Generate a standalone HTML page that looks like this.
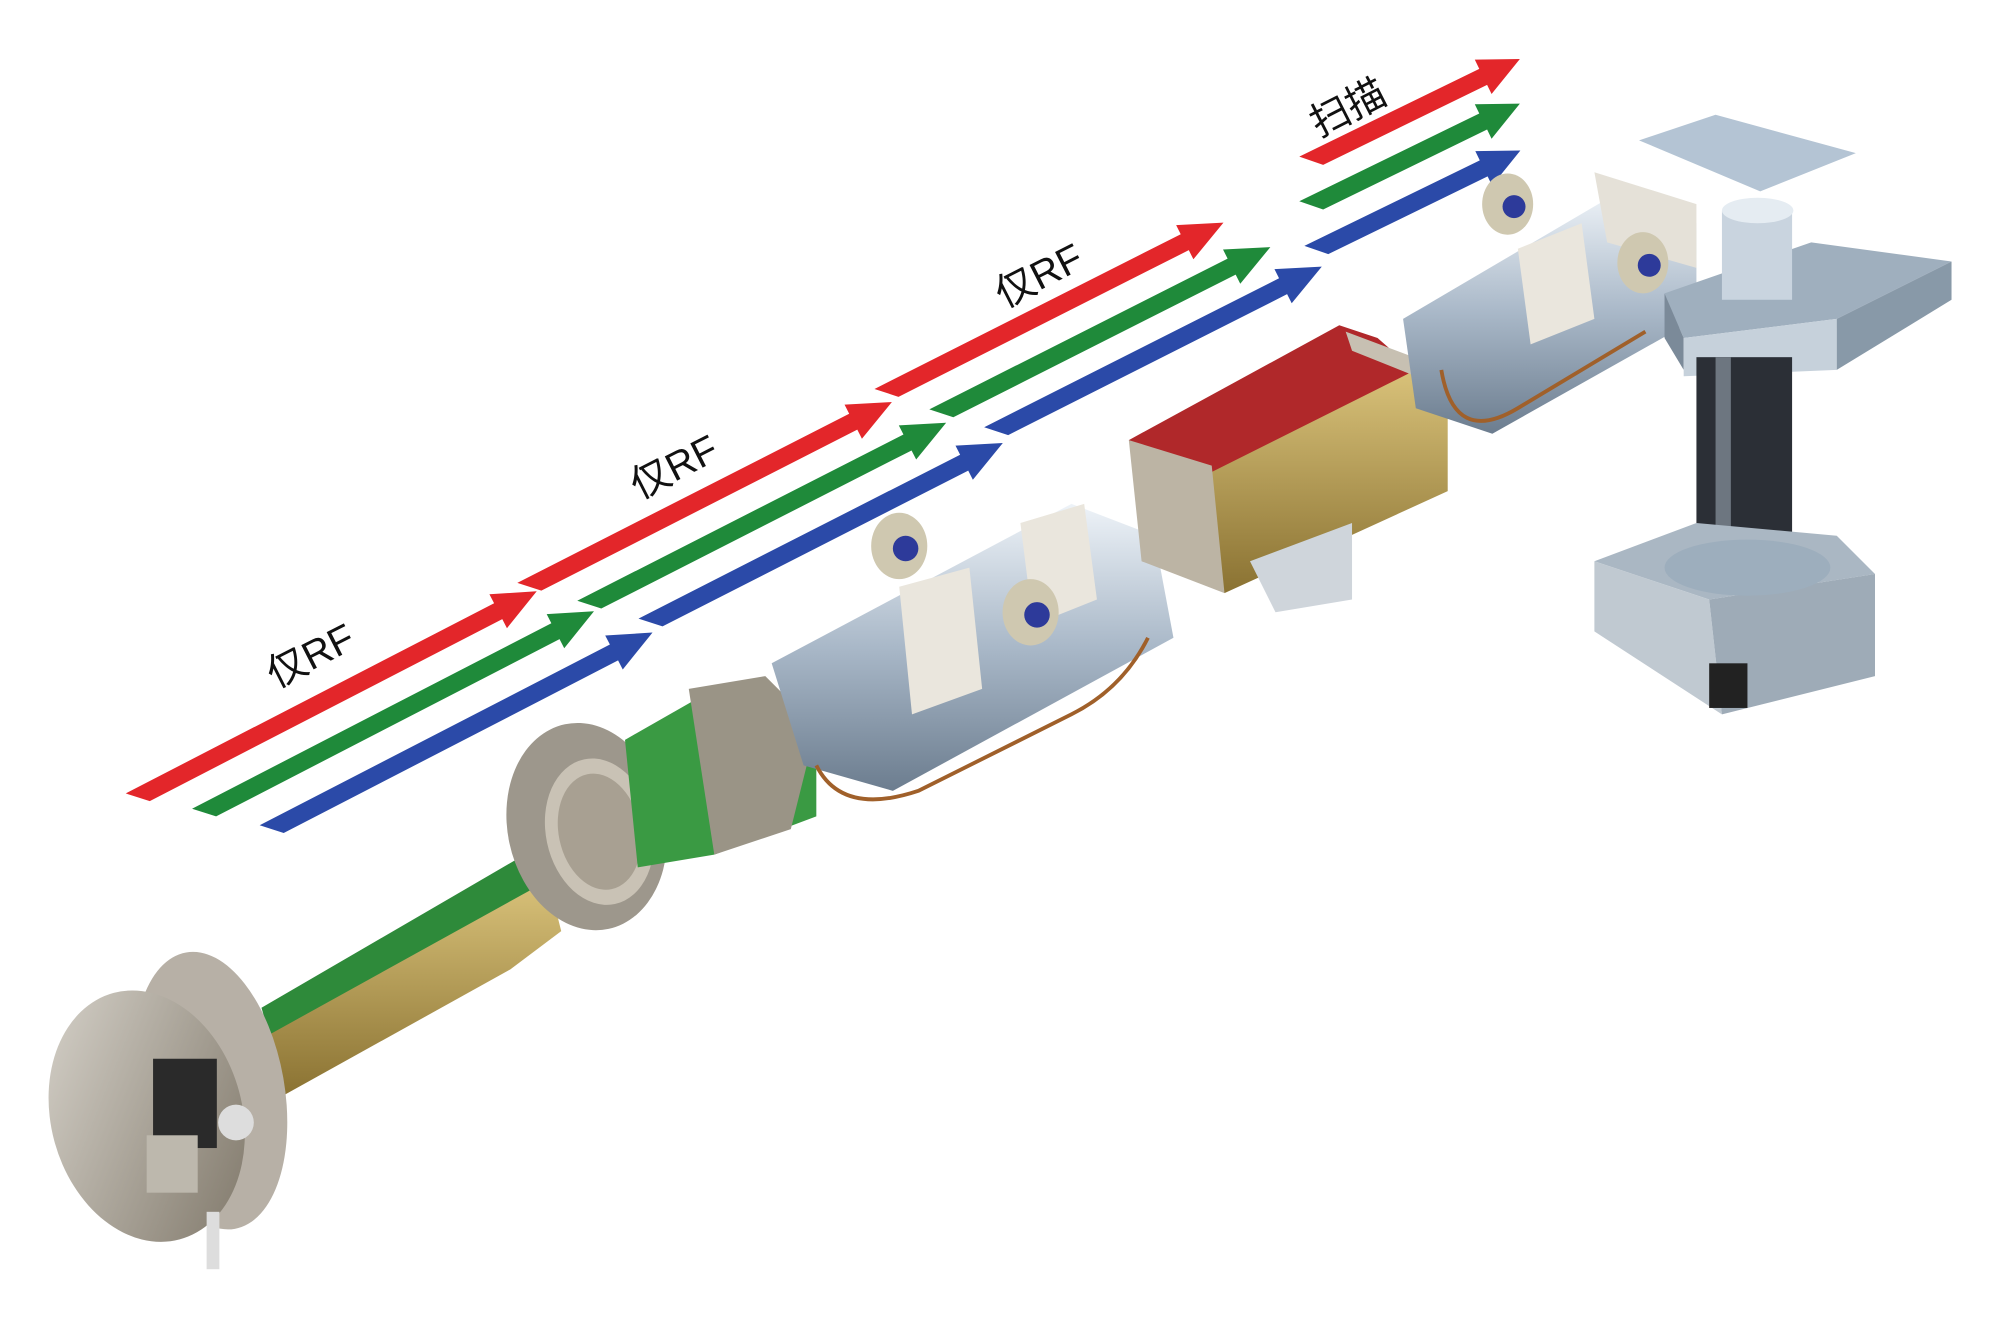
<!DOCTYPE html>
<html><head><meta charset="utf-8"><style>
html,body{margin:0;padding:0;background:#fff;width:2000px;height:1333px;overflow:hidden}
svg{display:block}
text{font-family:"Liberation Sans","Noto Sans CJK SC",sans-serif}
</style></head><body>
<svg width="2000" height="1333" viewBox="0 0 1568 1045" preserveAspectRatio="none" xmlns="http://www.w3.org/2000/svg">
<defs>
<linearGradient id="silver" x1="0" y1="0" x2="0" y2="1"><stop offset="0" stop-color="#eef3f8"/><stop offset="0.5" stop-color="#a9b8c8"/><stop offset="1" stop-color="#6c7d8f"/></linearGradient>
<linearGradient id="gold" x1="0" y1="0" x2="0" y2="1"><stop offset="0" stop-color="#d9c27a"/><stop offset="1" stop-color="#8a7232"/></linearGradient>
<linearGradient id="metal" x1="0" y1="0" x2="1" y2="1"><stop offset="0" stop-color="#d8d4cc"/><stop offset="1" stop-color="#7d7567"/></linearGradient>
</defs>

<g id="arrows">
<g transform="translate(108,625) rotate(-27.3)"><polygon points="-7,0 318,0 318,-8 352,7 318,22 318,14 7,14" transform="translate(0,-7)" fill="#e3262a"/></g>
<g transform="translate(160,637) rotate(-27.3)"><polygon points="-7,0 310,0 310,-8 344,7 310,22 310,14 7,14" transform="translate(0,-7)" fill="#1f8a3a"/></g>
<g transform="translate(213,650) rotate(-27.3)"><polygon points="-7,0 302,0 302,-8 336,7 302,22 302,14 7,14" transform="translate(0,-7)" fill="#2b4aa8"/></g>
<g transform="translate(415,460) rotate(-27)"><polygon points="-7,0 285,0 285,-8 319,7 285,22 285,14 7,14" transform="translate(0,-7)" fill="#e3262a"/></g>
<g transform="translate(462,474) rotate(-27)"><polygon points="-7,0 280,0 280,-8 314,7 280,22 280,14 7,14" transform="translate(0,-7)" fill="#1f8a3a"/></g>
<g transform="translate(510,488) rotate(-27)"><polygon points="-7,0 276,0 276,-8 310,7 276,22 276,14 7,14" transform="translate(0,-7)" fill="#2b4aa8"/></g>
<g transform="translate(695,308) rotate(-26.8)"><polygon points="-7,0 262,0 262,-8 296,7 262,22 262,14 7,14" transform="translate(0,-7)" fill="#e3262a"/></g>
<g transform="translate(738,324) rotate(-26.8)"><polygon points="-7,0 255,0 255,-8 289,7 255,22 255,14 7,14" transform="translate(0,-7)" fill="#1f8a3a"/></g>
<g transform="translate(781,338) rotate(-26.8)"><polygon points="-7,0 252,0 252,-8 286,7 252,22 252,14 7,14" transform="translate(0,-7)" fill="#2b4aa8"/></g>
<g transform="translate(1028,126) rotate(-26)"><polygon points="-7,0 150,0 150,-8 182,7 150,22 150,14 7,14" transform="translate(0,-7)" fill="#e3262a"/></g>
<g transform="translate(1028,161) rotate(-26)"><polygon points="-7,0 150,0 150,-8 182,7 150,22 150,14 7,14" transform="translate(0,-7)" fill="#1f8a3a"/></g>
<g transform="translate(1032,196) rotate(-26)"><polygon points="-7,0 146,0 146,-8 178,7 146,22 146,14 7,14" transform="translate(0,-7)" fill="#2b4aa8"/></g>
</g>

<text transform="translate(216,540) rotate(-27)" font-size="31" fill="#111">仅RF</text>
<text transform="translate(501,392) rotate(-27)" font-size="31" fill="#111">仅RF</text>
<text transform="translate(787,242) rotate(-27)" font-size="31" fill="#111">仅RF</text>
<text transform="translate(1034,108) rotate(-27)" font-size="31" fill="#111">扫描</text>

<polygon points="205,790 420,665 430,700 215,825" fill="#2e8a3a"/>
<polygon points="195,820 430,690 440,730 400,760 220,860 205,850" fill="url(#gold)"/>
<ellipse cx="165" cy="855" rx="58" ry="110" fill="#b7b0a6" transform="rotate(-10 165 855)"/>
<ellipse cx="115" cy="875" rx="75" ry="100" fill="url(#metal)" transform="rotate(-15 115 875)"/>
<rect x="120" y="830" width="50" height="70" fill="#2a2a2a"/>
<rect x="115" y="890" width="40" height="45" fill="#bdb8ad"/>
<circle cx="185" cy="880" r="14" fill="#ddd"/>
<rect x="162" y="950" width="10" height="45" fill="#ddd"/>

<ellipse cx="460" cy="648" rx="62" ry="82" fill="#9d978c" transform="rotate(-12 460 648)"/>
<ellipse cx="470" cy="652" rx="42" ry="58" fill="#c9c2b5" transform="rotate(-12 470 652)"/>
<ellipse cx="470" cy="652" rx="32" ry="46" fill="#a8a092" transform="rotate(-12 470 652)"/>
<polygon points="490,580 560,540 640,560 640,640 560,670 500,680" fill="#3a9a43"/>
<polygon points="540,540 600,530 640,570 620,650 560,670" fill="#9a9486"/>

<polygon points="605,520 840,395 905,420 920,500 700,620 630,600" fill="url(#silver)"/>
<polygon points="705,460 760,445 770,540 715,560" fill="#eae6dd"/>
<polygon points="800,410 850,395 860,470 810,490" fill="#eae6dd"/>
<ellipse cx="705" cy="428" rx="22" ry="26" fill="#cfc8b0"/>
<circle cx="710" cy="430" r="10" fill="#2d3a9a"/>
<ellipse cx="808" cy="480" rx="22" ry="26" fill="#cfc8b0"/>
<circle cx="813" cy="482" r="10" fill="#2d3a9a"/>
<path d="M640,600 q20,40 80,20 l120,-60 q40,-20 60,-60" stroke="#a0602a" stroke-width="3" fill="none"/>

<polygon points="885,345 1050,255 1080,265 1120,300 950,390" fill="#b0282a"/>
<polygon points="930,380 1110,290 1135,300 1135,385 960,465" fill="url(#gold)"/>
<polygon points="885,345 950,365 960,465 895,440" fill="#bcb4a4"/>
<polygon points="1055,260 1135,290 1135,305 1060,275" fill="#c7c0b2"/>
<polygon points="980,440 1060,410 1060,470 1000,480" fill="#cfd5db"/>

<polygon points="1100,250 1270,150 1330,175 1330,250 1170,340 1110,320" fill="url(#silver)"/>
<polygon points="1190,195 1240,175 1250,250 1200,270" fill="#eae6dd"/>
<polygon points="1250,135 1330,160 1330,210 1260,190" fill="#e5e1d8"/>
<ellipse cx="1182" cy="160" rx="20" ry="24" fill="#cfc8b0"/>
<circle cx="1187" cy="162" r="9" fill="#2d3a9a"/>
<ellipse cx="1288" cy="206" rx="20" ry="24" fill="#cfc8b0"/>
<circle cx="1293" cy="208" r="9" fill="#2d3a9a"/>
<path d="M1130,290 q10,60 60,30 l100,-60" stroke="#a0602a" stroke-width="3" fill="none"/>

<polygon points="1285,110 1345,90 1455,120 1380,150" fill="#b4c4d4"/>
<polygon points="1305,230 1420,190 1530,205 1440,250 1320,265" fill="#9fafbe"/>
<polygon points="1305,230 1320,265 1320,290 1305,265" fill="#7b8a99"/>
<polygon points="1320,265 1440,250 1440,290 1320,295" fill="#c6d1db"/>
<polygon points="1440,250 1530,205 1530,235 1440,290" fill="#8899a8"/>
<rect x="1350" y="165" width="55" height="70" fill="#c9d4df"/>
<ellipse cx="1378" cy="165" rx="28" ry="10" fill="#e5ecf2"/>
<rect x="1330" y="280" width="75" height="180" fill="#2b2f36"/>
<rect x="1345" y="280" width="12" height="180" fill="#6d7680"/>
<polygon points="1250,440 1330,410 1440,420 1470,450 1340,470" fill="#aab7c3"/>
<polygon points="1250,440 1340,470 1350,560 1250,495" fill="#c0c9d1"/>
<polygon points="1340,470 1470,450 1470,530 1350,560" fill="#9eabb7"/>
<ellipse cx="1370" cy="445" rx="65" ry="22" fill="#9daebd"/>
<rect x="1340" y="520" width="30" height="35" fill="#222"/>
</svg>
</body></html>
